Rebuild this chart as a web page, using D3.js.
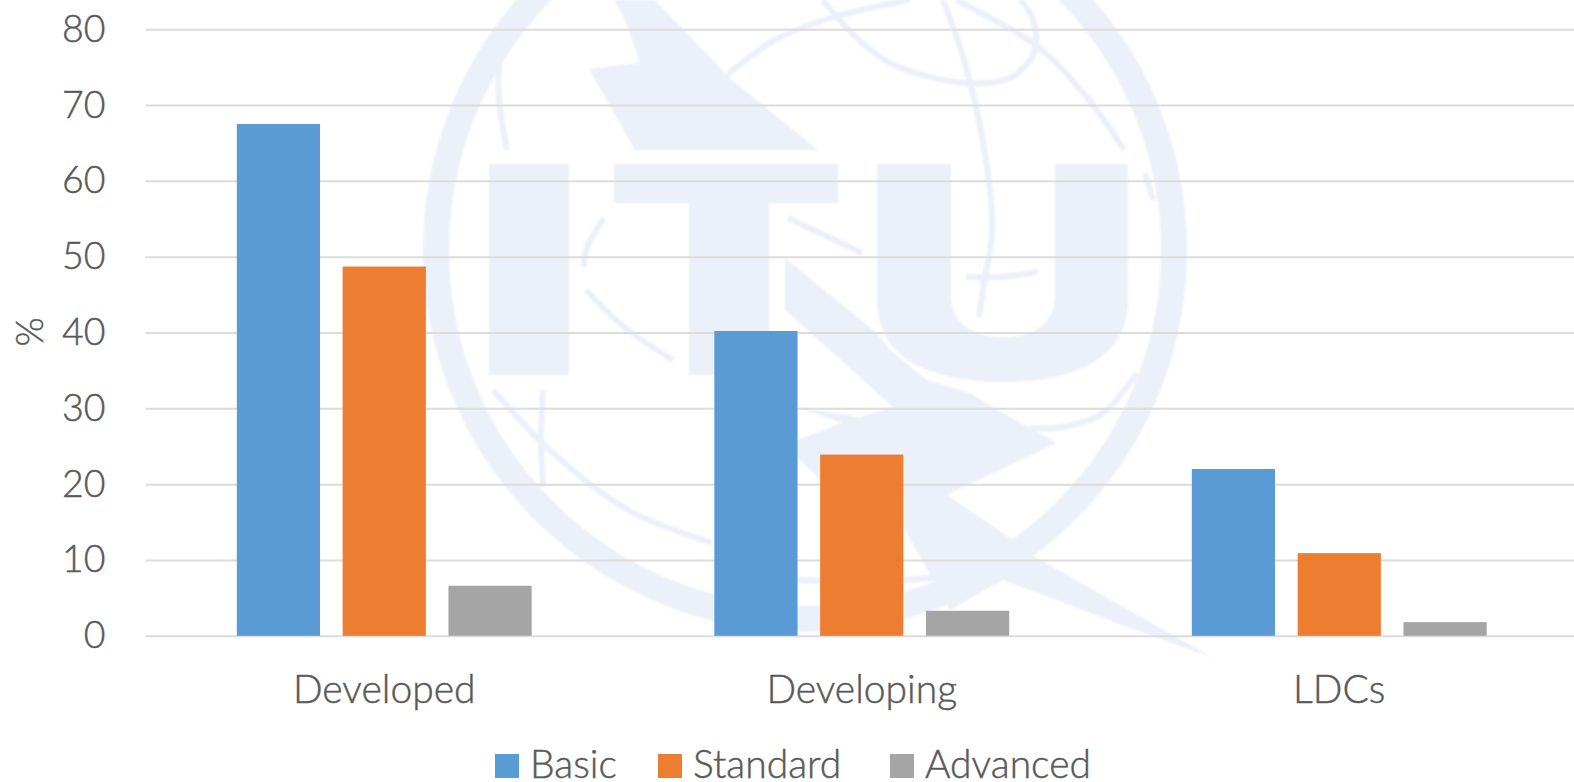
<!DOCTYPE html>
<html><head><meta charset="utf-8">
<script src="https://cdn.jsdelivr.net/npm/d3@7"></script>
<style>
html,body{margin:0;padding:0;background:#fff;overflow:hidden}
text{font-family:Lato,"Open Sans",sans-serif;fill:#595959;stroke:#595959;stroke-width:.45px}
</style></head><body><svg id="c" width="1574" height="782"></svg>
<script>
const categories = ["Developed","Developing","LDCs"];
const seriesNames = ["Basic","Standard","Advanced"];
const basicValues = [67.5,40.2,22];
const standardValues = [48.7,23.9,10.9];
const advancedValues = [6.6,3.3,1.8];
const yTicks = [0,10,20,30,40,50,60,70,80];
const seriesColors = ["#5b9bd5","#ed7d31","#a5a5a5"];
const valuesBySeries = [basicValues,standardValues,advancedValues];

const W=1574,H=782;
const left=145.5,right=1578,y0=635.8,yTop=29.2,fs=37.5,fsCat=39;
const svg=d3.select("#c");

// Pale background emblem (decoration)
const wm="#ecf0f8";
const defs=svg.append("defs");
defs.append("filter").attr("id","soft").append("feGaussianBlur").attr("stdDeviation",0.8);
const bg=svg.append("g").attr("filter","url(#soft)");
bg.append("circle").attr("cx",805).attr("cy",250).attr("r",369).attr("fill","none").attr("stroke",wm).attr("stroke-width",26);
const polys=[
 [[489,164],[569,164],[569,375],[489,375]],
 [[614,164],[838,164],[838,203],[769,203],[769,375],[689,375],[689,203],[614,203]],
 [[614,0],[655,0],[732,80],[818,150],[635,150],[589,69],[640,63],[625,20]],
 [[785,258],[877,333],[890,350],[927,380],[970,393],[1003,413],[1057,443],[947,495],[1013,540],[1037,558],[1213,658],[1130,628],[1003,580],[950,610],[903,527],[820,480],[797,457],[797,440],[842,423],[797,407],[860,417],[893,407],[785,310]]
];
bg.selectAll("path.p").data(polys).join("path").attr("class","p")
  .attr("d",d=>d3.line()(d)+"Z").attr("fill",wm);
bg.append("path").attr("fill",wm).attr("d","M877 164H951V295C951 325 975 337 1003 337C1032 337 1055 325 1055 295V164H1128V300C1128 358 1075 382 1003 382C930 382 877 358 877 300Z");
const curves=[
 [[727,75],[775,40],[834,17],[910,0]],
 [[823,0],[849,30],[890,63],[966,83],[1012,77],[1035,50],[1032,17],[1020,0]],
 [[943,0],[966,67],[987,167],[992,233],[984,283],[979,317]],
 [[966,277],[1000,277],[1038,272]],
 [[956,0],[1038,47],[1089,100],[1124,150]],
 [[499,60],[499,100],[507,150]],
 [[604,218],[586,250],[584,267]],
 [[586,290],[624,327],[673,360]],
 [[788,218],[862,253]],
 [[1145,173],[1153,200]],
 [[493,390],[553,453],[628,510],[712,543]],
 [[543,390],[541,440],[543,487]],
 [[797,580],[903,580],[957,573],[973,562]],
 [[797,613],[860,610],[917,590]],
 [[1030,428],[1063,427],[1103,413],[1137,373]]
];
bg.selectAll("path.c").data(curves).join("path").attr("class","c")
  .attr("d",d3.line().curve(d3.curveCatmullRom)).attr("fill","none").attr("stroke",wm).attr("stroke-width",6);

// Scales
const y=d3.scaleLinear().domain([0,80]).range([y0,yTop]);
const x=d3.scaleBand().domain(categories).range([left,right]);
const xs=d3.scaleBand().domain(seriesNames).range([0,x.bandwidth()]).paddingInner(.2136).paddingOuter(.863);

// Axes
const ya=svg.append("g").attr("transform",`translate(${left},0)`)
  .call(d3.axisLeft(y).tickValues(yTicks).tickSize(-(W-left)).tickPadding(40));
ya.select(".domain").remove();
ya.selectAll("line").attr("stroke","#dcdcdc").attr("stroke-width",2);
ya.selectAll("text").attr("font-size",fs).attr("font-weight",300);

const xa=svg.append("g").attr("transform",`translate(0,${y0})`)
  .call(d3.axisBottom(x).tickSize(0).tickPadding(39.5));
xa.select(".domain").remove();
xa.selectAll("text").attr("font-size",fsCat).attr("font-weight",300);

// Bars
svg.append("g").selectAll("g").data(seriesNames).join("g")
  .attr("fill",(d,i)=>seriesColors[i])
  .selectAll("rect").data((s,i)=>categories.map((c,k)=>({c,s,v:valuesBySeries[i][k]}))).join("rect")
  .attr("x",d=>x(d.c)+xs(d.s)).attr("width",xs.bandwidth())
  .attr("y",d=>y(d.v)).attr("height",d=>y(0)-y(d.v));

// Y title
svg.append("text").attr("transform","translate(43,332) rotate(-90)").attr("text-anchor","middle")
  .attr("font-size",fs).attr("font-weight",300).text("%");

// Legend
const legendX=d3.scaleOrdinal().domain(seriesNames).range([495,658,890]);
const lg=svg.append("g").selectAll("g").data(seriesNames).join("g")
  .attr("transform",d=>`translate(${legendX(d)},754)`);
lg.append("rect").attr("width",24).attr("height",24).attr("fill",(d,i)=>seriesColors[i]);
lg.append("text").attr("x",35).attr("y",24).attr("font-size",fsCat).attr("font-weight",300).text(d=>d);
</script></body></html>
